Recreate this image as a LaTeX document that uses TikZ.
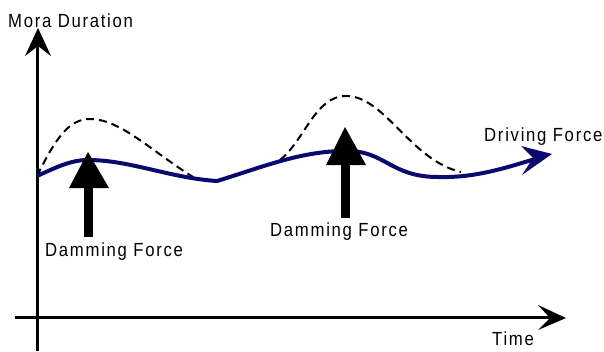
\documentclass[tikz,border=0pt]{standalone}
\usepackage{fontspec}
\setmainfont{Liberation Sans}[FakeStretch=0.88,LetterSpace=9]
\definecolor{navyline}{RGB}{10,10,110}
\begin{document}
\begin{tikzpicture}[x=1pt,y=-1pt,
  axis/.style={line width=3pt,black},
  curve/.style={line width=4pt,navyline},
  ghost/.style={line width=2pt,black,dash pattern=on 8pt off 5pt},
  lbl/.style={anchor=base west,inner sep=0pt,font=\fontsize{19}{19}\selectfont},
  headfill/.style={fill=black}]
\useasboundingbox (0,0) rectangle (604,351);
% axes
\coordinate (yb) at (37,351);
\coordinate (yt) at (37,45);
\coordinate (xl) at (15,317);
\coordinate (xr) at (552,317);
\draw[axis] (yb) -- (yt);
\draw[axis] (xl) -- (xr);
\fill[headfill] (38,28) -- (51,56) -- (38,46) -- (25,56) -- cycle;
\fill[headfill] (566,318) -- (538,330) -- (550,318) -- (538,305) -- cycle;
% dashed curves
\coordinate (d1s) at (37,176);
\coordinate (d1p) at (90,119);
\coordinate (d1e) at (193,177);
\draw[ghost] (d1s) .. controls (55,140) and (68,119) .. (d1p)
  .. controls (120,119) and (150,150) .. (d1e);
\coordinate (d2s) at (280,160);
\coordinate (d2p) at (346,96);
\coordinate (d2e) at (461,172);
\draw[ghost] (d2s) .. controls (305,140) and (315,96) .. (d2p)
  .. controls (385,96) and (410,160) .. (d2e);
% blue driving curve
\coordinate (b0) at (37,176);
\coordinate (b1) at (88,160);
\coordinate (b2) at (217,181);
\coordinate (b3) at (345,151);
\coordinate (b4) at (438,177);
\coordinate (b5) at (535,159);
\draw[curve,line join=round] (b0) .. controls (55,168) and (70,160) .. (b1)
  .. controls (130,160) and (170,178) .. (b2)
  .. controls (260,168) and (300,151) .. (b3)
  .. controls (385,150) and (390,177) .. (b4)
  .. controls (475,178) and (505,168) .. (b5);
\fill[navyline] (552,154) -- (521,146) -- (533,158) -- (522,175) -- cycle;
% damming arrows
\fill[black] (83.5,237) rectangle (92.5,186);
\fill[black] (88,152) -- (109,188) -- (69,188) -- cycle;
\fill[black] (340.5,218) rectangle (349.5,163);
\fill[black] (345,127) -- (366,165) -- (326,165) -- cycle;
% labels
\node[lbl] (mora) at (8,27) {Mora Duration};
\node[lbl] (time) at (492,345) {Time};
\node[lbl] (drive) at (484,141) {Driving Force};
\node[lbl] (dam1) at (45,256.5) {Damming Force};
\node[lbl] (dam2) at (270,236.5) {Damming Force};
\end{tikzpicture}
\end{document}
